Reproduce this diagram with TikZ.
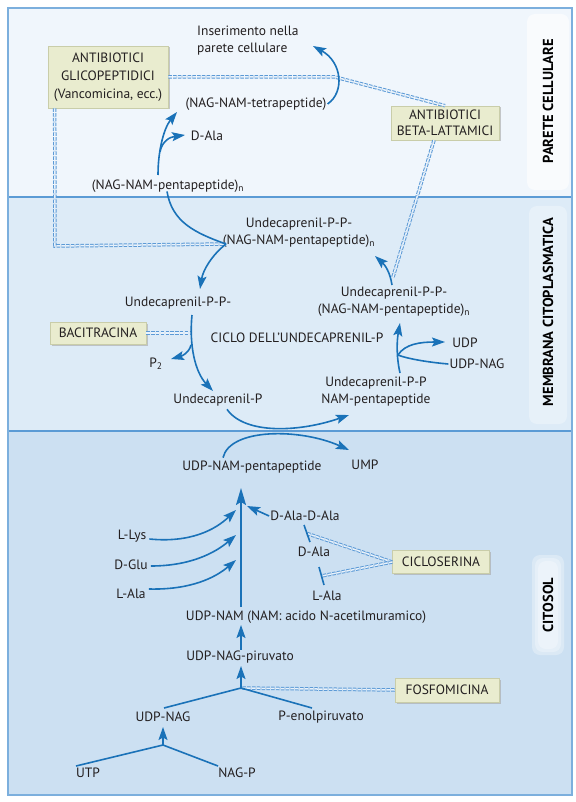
\documentclass[tikz,border=0pt]{standalone}
\usepackage{fontspec}
\setmainfont{PT Sans}
\usetikzlibrary{arrows.meta,shadows,calc}
\definecolor{bgtop}{HTML}{F0F6FC}
\definecolor{bgmid}{HTML}{DDEBF7}
\definecolor{bgbot}{HTML}{CCE0F2}
\definecolor{framec}{HTML}{5B9BD5}
\definecolor{arr}{HTML}{1A72B8}
\definecolor{dashc}{HTML}{5C9AD6}
\definecolor{dashcore}{HTML}{E9F2FB}
\definecolor{boxfill}{HTML}{E9ECCF}
\definecolor{boxline}{HTML}{C9CDA9}
\definecolor{txt}{HTML}{231F20}
\begin{document}
\begin{tikzpicture}[x=1pt,y=-1pt,
  lbl/.style={font=\fontsize{13.5}{17}\selectfont, text=txt, inner sep=1pt, align=center},
  abox/.style={lbl, draw=boxline, fill=boxfill, line width=0.6pt,
     drop shadow={shadow xshift=1.5pt, shadow yshift=-1.5pt, fill=black!35, opacity=0.6}},
  vlab/.style={font=\fontsize{14.5}{16}\selectfont\bfseries, text=black, rotate=90},
  flow/.style={draw=arr, line width=1.6pt, -{Stealth[length=13pt,width=9pt,inset=2.5pt]}},
  plain/.style={draw=arr, line width=1.6pt},
  inh/.style={draw=dashc, line width=1pt, double=dashcore, double distance=1.5pt, dash pattern=on 3.5pt off 1.3pt}
]
\useasboundingbox (0,0) rectangle (575,802);
% regions
\fill[bgtop] (8,8) rectangle (572,197);
\fill[bgmid] (8,197) rectangle (572,431);
\fill[bgbot] (8,431) rectangle (572,795);
\fill[white, opacity=0.6, rounded corners=8pt] (527,14) rectangle (569,190);
\fill[white, opacity=0.3, rounded corners=8pt] (529,206) rectangle (567,424);
\foreach \o in {0,3,6} {\fill[white, opacity=0.3, rounded corners=8pt] (532+\o,555+\o) rectangle (564-\o,655-\o);}
\draw[framec, line width=1.2pt] (8,197) -- (572,197);
\draw[framec, line width=1.2pt] (8,431) -- (572,431);
\draw[framec!80, line width=1.2pt] (8,8) rectangle (572,795);
\node[vlab] (parete) at (548,101) {PARETE CELLULARE};
\node[vlab] (membrana) at (548,312) {MEMBRANA CITOPLASMATICA};
\node[vlab] (citosol) at (548,605) {CITOSOL};

% nodes top
\node[lbl, align=left, anchor=west] (ins) at (196,41) {Inserimento nella\\parete cellulare};
\node[abox, minimum width=120pt, minimum height=62pt, font=\fontsize{13.5}{18}\selectfont] (glico) at (108,77) {ANTIBIOTICI\\GLICOPEPTIDICI\\(Vancomicina, ecc.)};
\node[abox, minimum width=108pt, minimum height=34pt, font=\fontsize{13.5}{15.5}\selectfont] (beta) at (445,123) {ANTIBIOTICI\\BETA-LATTAMICI};
\node[lbl] (tetra) at (256,104) {(NAG-NAM-tetrapeptide)};
\node[lbl] (dala1) at (207,136) {D-Ala};
\node[lbl] (penta1) at (168,186) {(NAG-NAM-pentapeptide)\textsubscript{n}};

% nodes membrane
\node[lbl] (uppA) at (299,233) {Undecaprenil-P-P-\\(NAG-NAM-pentapeptide)\textsubscript{n}};
\node[lbl] (uppL) at (178,303) {Undecaprenil-P-P-};
\node[abox, minimum width=96pt, minimum height=22pt] (baci) at (98,333) {BACITRACINA};
\node[lbl] (ciclo) at (297,338) {CICLO DELL’UNDECAPRENIL-P};
\node[lbl] (p2) at (156,364) {P\textsubscript{2}};
\node[lbl] (upL) at (218,400) {Undecaprenil-P};
\node[lbl] (uppR) at (394,302) {Undecaprenil-P-P-\\(NAG-NAM-pentapeptide)\textsubscript{n}};
\node[lbl] (uppN) at (376,392) {Undecaprenil-P-P\\NAM-pentapeptide};
\node[lbl] (udp) at (465,343) {UDP};
\node[lbl] (udpnag) at (477,364) {UDP-NAG};

% nodes cytosol
\node[lbl] (unp) at (252,467) {UDP-NAM-pentapeptide};
\node[lbl] (ump) at (365,465) {UMP};
\node[lbl] (dd) at (305,516) {D-Ala-D-Ala};
\node[lbl] (llys) at (132,536) {L-Lys};
\node[lbl] (dglu) at (131,565) {D-Glu};
\node[lbl] (lala1) at (131,594) {L-Ala};
\node[lbl] (dala3) at (314,552) {D-Ala};
\node[lbl] (lala2) at (327,596) {L-Ala};
\node[abox, minimum width=97pt, minimum height=23pt] (ciclos) at (441,562) {CICLOSERINA};
\node[lbl] (udpnam) at (306,617) {UDP-NAM (NAM: acido N-acetilmuramico)};
\node[lbl] (piruv) at (240,657) {UDP-NAG-piruvato};
\node[abox, minimum width=104pt, minimum height=24pt] (fosfo) at (447,690) {FOSFOMICINA};
\node[lbl] (udpnag2) at (163,717) {UDP-NAG};
\node[lbl] (penol) at (321,717) {P-enolpiruvato};
\node[lbl] (utp) at (88,773) {UTP};
\node[lbl] (nagp) at (237,773) {NAG-P};

% coordinates
\coordinate (kA) at (226,244);
\coordinate (bD) at (160,152);
\coordinate (bP) at (191,345);
\coordinate (bU) at (398,355);
\coordinate (j2) at (241,688);
\coordinate (j3) at (163,745);
\coordinate (gC) at (335,77);
\coordinate (mainT) at (241,488);
\coordinate (bar1a) at (304,525); \coordinate (bar1b) at (310,542);
\coordinate (bar2a) at (319,567); \coordinate (bar2b) at (324,585);

% inhibitor lines (below arrows)
\draw[inh] (glico.east) -- (gC) -- (beta.north);
\draw[inh] (glico.south west) ++(7,0) -- (55,246) -- (kA);
\draw[inh] ([xshift=-11pt]beta.south) -- (393,277);
\draw[inh] (baci.east) -- (190,333);
\draw[inh] (ciclos.west) -- ($(bar1a)!0.5!(bar1b)$);
\draw[inh] (ciclos.west) -- ($(bar2a)!0.5!(bar2b)$);
\draw[inh] (fosfo.west) -- (j2);

% top arrows
\draw[flow] (158,175) .. controls (158,150) and (164,128) .. (177,112);
\draw[flow] (bD) .. controls (162,141) and (170,137) .. (185,135);
\draw[flow] (tetra.east) .. controls (345,92) and (342,62) .. (313,46);
% membrane arrows
\draw[plain] (penta1.south) ++(-1,-2) .. controls (172,222) and (195,233) .. (kA);
\draw[flow] (kA) .. controls (212,255) and (203,270) .. (200,289);
\draw[flow] (192,315) .. controls (189,345) and (195,372) .. (213,391);
\draw[flow] (bP) .. controls (189,353) and (182,356) .. (171,359);
\draw[flow] (upL.south) ++(9,2) .. controls (245,435) and (300,432) .. (349,415);
\draw[flow] (unp.north) ++(-29,-2) .. controls (230,428) and (300,428) .. (349,450);
\draw[flow] (400,373) .. controls (396,355) and (397,340) .. (400,323);
\draw[flow] (bU) .. controls (405,344) and (420,342) .. (445,342);
\draw[plain] (udpnag.west) .. controls (425,362) and (405,358) .. (bU);
\draw[flow] (392,285) .. controls (390,272) and (385,265) .. (375,256);
% cytosol arrows
\draw[flow, -{Stealth[length=17pt,width=10pt,inset=3pt]}] (241,607) -- (mainT);
\draw[flow] (dd.west) -- (247,506);
\draw[flow] (llys.east) ++(2,3) .. controls (190,543) and (215,530) .. (236,510);
\draw[flow] (dglu.east) ++(2,1) .. controls (190,566) and (215,553) .. (236,535);
\draw[flow] (lala1.east) ++(2,-5) .. controls (190,590) and (215,578) .. (236,560);
\draw[plain] (bar1a) -- (bar1b);
\draw[plain] (bar2a) -- (bar2b);
\draw[flow] (piruv.north -| mainT) -- (241,625);
\draw[flow] (j2) -- (241,666);
\draw[plain] (164,708) -- (j2) -- (312,708);
\draw[flow] (j3) -- (163,727);
\draw[plain] (76,766) -- (j3) -- (218,766);
\end{tikzpicture}
\end{document}
